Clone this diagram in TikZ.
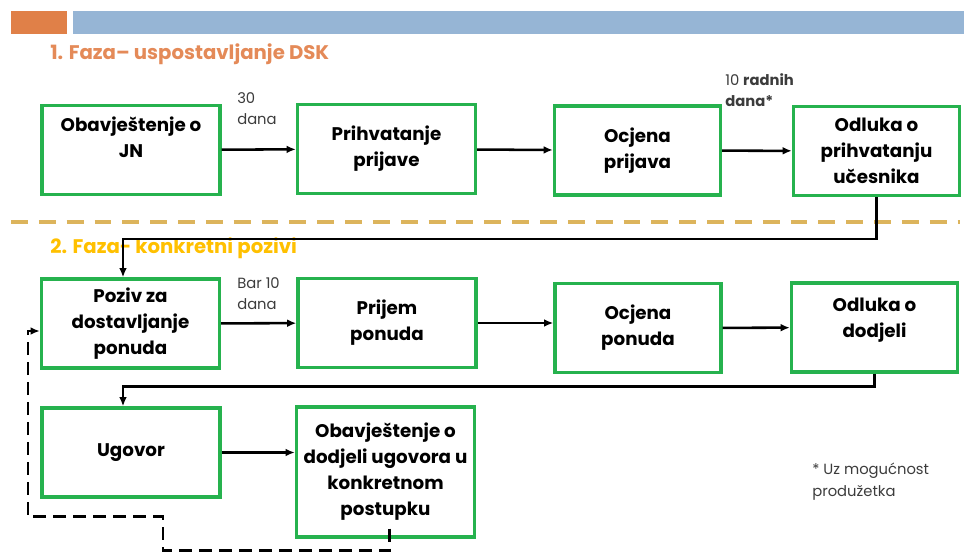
\documentclass[tikz,border=0pt]{standalone}
\usepackage{fontspec}
\setmainfont{Poppins}
\usepackage{tikz}
\usetikzlibrary{calc}
\usetikzlibrary{positioning}
\usetikzlibrary{arrows.meta}
\definecolor{boxgreen}{RGB}{38,178,78}
\definecolor{headorange}{RGB}{224,128,72}
\definecolor{headblue}{RGB}{150,181,213}
\definecolor{fazaorange}{RGB}{228,138,88}
\definecolor{fazayellow}{RGB}{255,192,0}
\definecolor{sepgold}{RGB}{220,180,92}
\definecolor{labelgray}{RGB}{60,60,60}
\tikzstyle{box}=[
  draw=boxgreen,
  line width=2.4pt,
  minimum width=4.45cm,
  minimum height=2.225cm,
  inner sep=0pt,
  align=center,
  font=\fontsize{13}{18.5}\selectfont\bfseries
]
\tikzstyle{smallbox}=[
  box,
  minimum width=4.15cm
]
\tikzstyle{op}=[
  -{Latex[length=6.5pt,width=5.5pt]},
  line width=1.8pt
]
\tikzstyle{back}=[
  op,
  line width=2pt,
  dash pattern=on 9.2pt off 5pt
]
\tikzstyle{lbl}=[
  anchor=north west,
  inner sep=0pt,
  align=left,
  text=labelgray,
  font=\fontsize{10.5}{15.5}\selectfont
]
\tikzstyle{faza}=[
  anchor=base west,
  inner sep=0pt,
  font=\fontsize{14}{16}\selectfont\bfseries
]

\begin{document}
\begin{tikzpicture}[x=0.025cm, y=-0.025cm]
  \useasboundingbox (0,0) rectangle (964,552);

  \fill[headorange] (11,11) rectangle (67,34);
  \fill[headblue]   (73,11) rectangle (964,34);

  \node[faza, text=fazaorange] (faza1) at (50,59)  {1. Faza-- uspostavljanje DSK};
  \node[faza, text=fazayellow] (faza2) at (50,253) {2. Faza- konkretni pozivi};

  \draw[sepgold, line width=2.6pt, dash pattern=on 12pt off 7.8pt] (11,222) -- (960,222);

  \node[box, text depth=18pt] (obav)     at (131,  150)   {Obavještenje o\\JN};
  \node[box                 ] (prihv)    at (386.5,149)   {Prihvatanje\\prijave};
  \node[smallbox            ] (ocjprij)  at (637.5,150.5) {Ocjena\\prijava};
  \node[smallbox            ] (odlprihv) at (876.5,151)   {Odluka o\\prihvatanju\\učesnika};

  \node[box                 ] (poziv)    at (130.5,323.5) {Poziv za\\dostavljanje\\ponuda};
  \node[box                 ] (prijem)   at (387,  323)   {Prijem\\ponuda};
  \node[smallbox            ] (ocjpon)   at (638,  328)   {Ocjena\\ponuda};
  \node[smallbox, text depth=14pt] (odldodj) at (874.5,327.5) {Odluka o\\dodjeli};

  \node[box                 ] (ugovor)   at (131,  452.5) {Ugovor};
  \node[box, minimum height=3.25cm] (obavdodj) at (385.5,472) {Obavještenje o\\dodjeli ugovora u\\konkretnom\\postupku};

  \node[lbl] (rok1) at (237,92)  {30\\dana};
  \node[lbl] (rok2) at (725,73)  {10 \textbf{radnih}\\\textbf{dana*}};
  \node[lbl] (rok3) at (237,277) {Bar 10\\dana};
  \node[lbl] (napomena) at (812,463) {* Uz mogućnost\\produžetka};

  \draw[op] (obav) -- (prihv);
  \draw[op] (prihv) -- (ocjprij);
  \draw[op] (ocjprij) -- (odlprihv);
  \draw[op] (odlprihv.south) -- ++(0,42) -| ($(poziv.north)+(-7.5,0)$);

  \draw[op] (poziv) -- (prijem);
  \draw[op] (prijem.east) -- (prijem.east -| ocjpon.west);
  \draw[op] (ocjpon) -- (odldodj);
  \draw[op] (odldodj.south) -- ++(0,13) -| ($(ugovor.north)+(-8,0)$);

  \draw[op] (ugovor.east) -- (ugovor.east -| obavdodj.west);
  \draw[back] ($(obavdodj.south)+(4,-10)$) -- ++(0,22) -| ++(-226.5,-34)
    -- ++(-135,0) |- ($(poziv.west)+(0,7.5)$);
\end{tikzpicture}
\end{document}
